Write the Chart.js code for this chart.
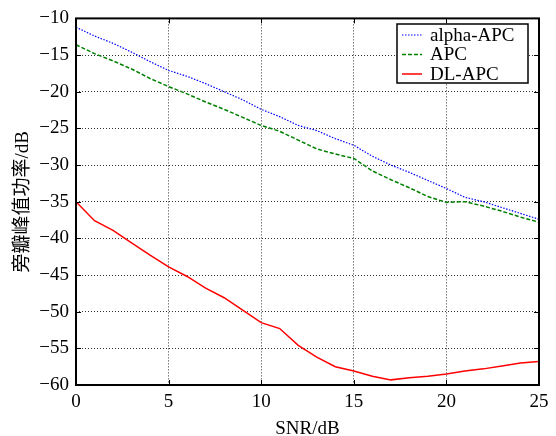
<!DOCTYPE html>
<html>
<head>
    <title>SNR vs PSL</title>
    <script src="https://cdn.jsdelivr.net/npm/chart.js"></script>
    <style>
body { margin: 0; background: #fff; }
#myChart { display: block; }
    </style>
</head>
<body>
  <canvas id="myChart" width="556" height="436"></canvas>
    <script>
        // Data
        const snr = [0, 1, 2, 3, 4, 5, 6, 7, 8, 9, 10, 11, 12, 13, 14, 15, 16, 17, 18, 19, 20, 21, 22, 23, 24, 25];
        const alphaApc = [-11.2, -12.4, -13.4, -14.6, -15.9, -17.1, -17.9, -18.9, -20.0, -21.1, -22.4, -23.4, -24.6, -25.3, -26.4, -27.3, -28.8, -30.0, -31.0, -32.1, -33.2, -34.4, -35.0, -35.8, -36.6, -37.4];
        const apc = [-13.6, -14.8, -15.8, -16.9, -18.2, -19.3, -20.3, -21.4, -22.4, -23.5, -24.6, -25.4, -26.6, -27.8, -28.5, -29.1, -30.8, -32.0, -33.1, -34.3, -35.1, -35.0, -35.6, -36.3, -37.1, -37.8];
        const dlApc = [-35.0, -37.6, -38.9, -40.6, -42.3, -43.9, -45.2, -46.8, -48.1, -49.8, -51.5, -52.3, -54.6, -56.2, -57.5, -58.1, -58.8, -59.3, -59.0, -58.8, -58.5, -58.1, -57.8, -57.4, -57.0, -56.8];
        const seriesNames = ['alpha-APC', 'APC', 'DL-APC'];
        const xTicks = [0, 5, 10, 15, 20, 25];
        const yTicks = [-60, -55, -50, -45, -40, -35, -30, -25, -20, -15, -10];
        const xTitle = 'SNR/dB';
        const yTitle = '旁瓣峰值功率/dB';

        const serif = "'Liberation Serif', 'Noto Sans CJK SC', serif";
        const toPts = arr => arr.map((v, i) => ({ x: snr[i], y: v }));

        // box, inner ticks and legend like the matlab figure
        const frameAndLegend = {
          id: 'frameAndLegend',
          afterDatasetsDraw(chart) {
            const { ctx, chartArea: a, scales } = chart;
            ctx.save();
            ctx.strokeStyle = '#000';
            ctx.lineWidth = 1;
            ctx.setLineDash([]);
            // inner tick marks
            scales.x.ticks.forEach(t => {
              const px = Math.round(scales.x.getPixelForValue(t.value)) + 0.5;
              ctx.beginPath();
              ctx.moveTo(px, a.bottom); ctx.lineTo(px, a.bottom - 5);
              ctx.moveTo(px, a.top); ctx.lineTo(px, a.top + 5);
              ctx.stroke();
            });
            scales.y.ticks.forEach(t => {
              const py = Math.round(scales.y.getPixelForValue(t.value)) + 0.5;
              ctx.beginPath();
              ctx.moveTo(a.left, py); ctx.lineTo(a.left + 5, py);
              ctx.moveTo(a.right, py); ctx.lineTo(a.right - 5, py);
              ctx.stroke();
            });
            ctx.lineWidth = 2;
            ctx.strokeRect(a.left, a.top, a.right - a.left, a.bottom - a.top);

            // legend
            const bx = 397, by = 24, bw = 131, bh = 59;
            ctx.fillStyle = '#fff';
            ctx.fillRect(bx, by, bw, bh);
            ctx.lineWidth = 1.5;
            ctx.strokeRect(bx, by, bw, bh);
            ctx.font = '19px ' + serif;
            ctx.textBaseline = 'middle';
            chart.data.datasets.forEach((ds, i) => {
              const ry = by + 11 + i * 19.5;
              ctx.strokeStyle = ds.borderColor;
              ctx.lineWidth = ds.borderWidth;
              ctx.setLineDash(ds.borderDash || []);
              ctx.beginPath();
              ctx.moveTo(bx + 5, ry); ctx.lineTo(bx + 25, ry);
              ctx.stroke();
              ctx.fillStyle = '#000';
              ctx.fillText(ds.label, bx + 33, ry + 1);
            });
            ctx.restore();
          }
        };

        const ctx = document.getElementById('myChart').getContext('2d');
        const psChart = new Chart(ctx, {
          type: 'line',
          data: {
            datasets: [
              { label: seriesNames[0], data: toPts(alphaApc), borderColor: '#0000ff', borderWidth: 1.2, borderDash: [1.5, 1.5], pointRadius: 0, tension: 0 },
              { label: seriesNames[1], data: toPts(apc), borderColor: '#008000', borderWidth: 1.5, borderDash: [4, 2], pointRadius: 0, tension: 0 },
              { label: seriesNames[2], data: toPts(dlApc), borderColor: '#ff0000', borderWidth: 1.5, pointRadius: 0, tension: 0 },
            ],
          },
          options: {
            responsive: false,
            animation: false,
            layout: { padding: { left: 0, right: 17, top: 17, bottom: 0 } },
            plugins: { legend: { display: false }, tooltip: { enabled: false } },
            scales: {
              x: {
                type: 'linear',
                min: 0, max: 25,
                afterFit: s => { s.height = 51; },
                afterBuildTicks: s => { s.ticks = xTicks.map(v => ({ value: v })); },
                ticks: { autoSkip: false, color: '#000', padding: 6, maxRotation: 0, font: { family: serif, size: 19 } },
                grid: { color: '#000', lineWidth: 0.8, drawTicks: false },
                border: { display: false, dash: [1, 2] },
                title: { display: true, text: xTitle, color: '#000', padding: { top: 0, bottom: -4 }, font: { family: serif, size: 19 } },
              },
              y: {
                min: -60, max: -10,
                afterFit: s => { s.width = 76; },
                afterBuildTicks: s => { s.ticks = yTicks.map(v => ({ value: v })); },
                ticks: {
                  autoSkip: false, color: '#000', padding: 7, font: { family: serif, size: 19 },
                  callback: v => String(v).replace('-', '\u2212'),
                },
                grid: { color: '#000', lineWidth: 0.8, drawTicks: false },
                border: { display: false, dash: [1, 2] },
                title: { display: true, text: yTitle, color: '#000', padding: { top: 12, bottom: 0 }, font: { family: serif, size: 19 } },
              },
            },
          },
          plugins: [frameAndLegend],
        });
    </script>
</body>
</html>
